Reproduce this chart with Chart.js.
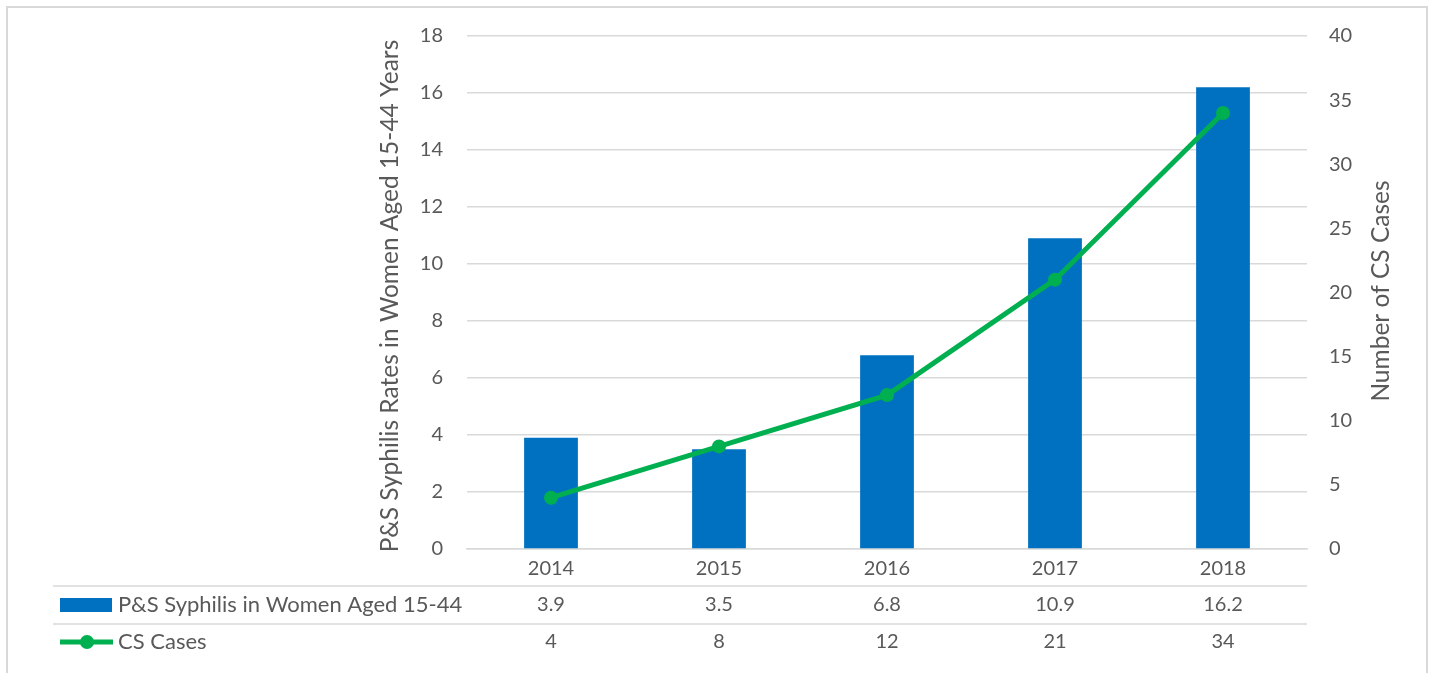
<!DOCTYPE html>
<html>
<head>
<meta charset="utf-8">
<script src="https://cdn.jsdelivr.net/npm/chart.js@4.4.1/dist/chart.umd.min.js"></script>
<style>
html,body{margin:0;padding:0;background:#fff;overflow:hidden}
canvas{display:block}
</style>
</head>
<body>
<canvas id="c" width="1432" height="673"></canvas>
<script>
// ---- data ----
const years = ['2014', '2015', '2016', '2017', '2018'];
const syphilisRates = [3.9, 3.5, 6.8, 10.9, 16.2];
const csCases = [4, 8, 12, 21, 34];
const seriesLabels = ['P&S Syphilis in Women Aged 15-44', 'CS Cases'];
const leftAxisTitle = 'P&S Syphilis Rates in Women Aged 15-44 Years';
const rightAxisTitle = 'Number of CS Cases';
const leftAxisRange = [0, 18, 2];
const rightAxisRange = [0, 40, 5];

const FONT = 'Lato';
const TXT = '#595959';
const GRID = '#d9d9d9';
const BLUE = '#0070C0';
const GREEN = '#00B050';

const decorPlugin = {
  id: 'decor',
  afterDraw(chart) {
    const { ctx, chartArea, scales } = chart;
    const x = scales.x;
    ctx.save();
    // outer border
    ctx.strokeStyle = GRID;
    ctx.lineWidth = 2;
    ctx.strokeRect(7, 7, 1420, 700);

    // axis titles (both read bottom-to-top)
    ctx.fillStyle = TXT;
    ctx.font = `24.5px ${FONT}`;
    ctx.textAlign = 'center';
    ctx.textBaseline = 'alphabetic';
    ctx.save();
    ctx.translate(398, 296);
    ctx.rotate(-Math.PI / 2);
    ctx.fillText(leftAxisTitle, 0, 0);
    ctx.restore();
    ctx.save();
    ctx.translate(1389, 291);
    ctx.rotate(-Math.PI / 2);
    ctx.fillText(rightAxisTitle, 0, 0);
    ctx.restore();

    // data table
    const line1 = chartArea.bottom + 37;
    const line2 = line1 + 38;
    ctx.strokeStyle = GRID;
    ctx.lineWidth = 1.5;
    [line1, line2].forEach(yy => {
      ctx.beginPath();
      ctx.moveTo(53, yy);
      ctx.lineTo(chartArea.right, yy);
      ctx.stroke();
    });
    const row1 = line1 + 19;
    const row2 = line2 + 18;

    // legend keys
    ctx.fillStyle = BLUE;
    ctx.fillRect(60, row1 - 7, 52, 14);
    ctx.strokeStyle = GREEN;
    ctx.lineWidth = 5;
    ctx.beginPath();
    ctx.moveTo(60, row2);
    ctx.lineTo(113, row2);
    ctx.stroke();
    ctx.fillStyle = GREEN;
    ctx.beginPath();
    ctx.arc(87, row2, 7, 0, Math.PI * 2);
    ctx.fill();

    ctx.fillStyle = TXT;
    ctx.font = `22px ${FONT}`;
    ctx.textAlign = 'left';
    ctx.textBaseline = 'middle';
    ctx.fillText(seriesLabels[0], 118, row1);
    ctx.fillText(seriesLabels[1], 118, row2);

    ctx.font = `20px ${FONT}`;
    ctx.textAlign = 'center';
    years.forEach((yr, i) => {
      const px = x.getPixelForValue(i);
      ctx.fillText(String(syphilisRates[i]), px, row1);
      ctx.fillText(String(csCases[i]), px, row2);
    });
    ctx.restore();
  }
};

new Chart(document.getElementById('c'), {
  data: {
    labels: years,
    datasets: [
      {
        type: 'line',
        label: seriesLabels[1],
        data: csCases,
        yAxisID: 'y1',
        borderColor: GREEN,
        backgroundColor: GREEN,
        borderWidth: 5,
        pointRadius: 7,
        pointHoverRadius: 7,
        pointBackgroundColor: GREEN,
        pointBorderWidth: 0,
        tension: 0,
        order: 1
      },
      {
        type: 'bar',
        label: seriesLabels[0],
        data: syphilisRates,
        yAxisID: 'y',
        backgroundColor: BLUE,
        barPercentage: 0.32,
        categoryPercentage: 1.0,
        order: 2
      }
    ]
  },
  plugins: [decorPlugin],
  options: {
    responsive: false,
    animation: false,
    layout: { padding: { left: 376, right: 36, top: 35, bottom: 87 } },
    plugins: { legend: { display: false }, tooltip: { enabled: false } },
    scales: {
      x: {
        grid: { display: false, drawTicks: false },
        border: { display: true, color: GRID, width: 1.5 },
        ticks: { color: TXT, font: { family: FONT, size: 20 }, padding: 8 },
        afterFit: s => { s.height = 37; }
      },
      y: {
        position: 'left',
        min: leftAxisRange[0], max: leftAxisRange[1],
        ticks: { stepSize: leftAxisRange[2], color: TXT, font: { family: FONT, size: 20 }, padding: 24 },
        grid: { color: GRID, lineWidth: 1.5, drawTicks: false },
        border: { display: false },
        afterFit: s => { s.width = 91; }
      },
      y1: {
        position: 'right',
        min: rightAxisRange[0], max: rightAxisRange[1],
        ticks: { stepSize: rightAxisRange[2], color: TXT, font: { family: FONT, size: 20 }, padding: 22 },
        grid: { display: false, drawTicks: false },
        border: { display: false },
        afterFit: s => { s.width = 89; }
      }
    }
  }
});
</script>
</body>
</html>
